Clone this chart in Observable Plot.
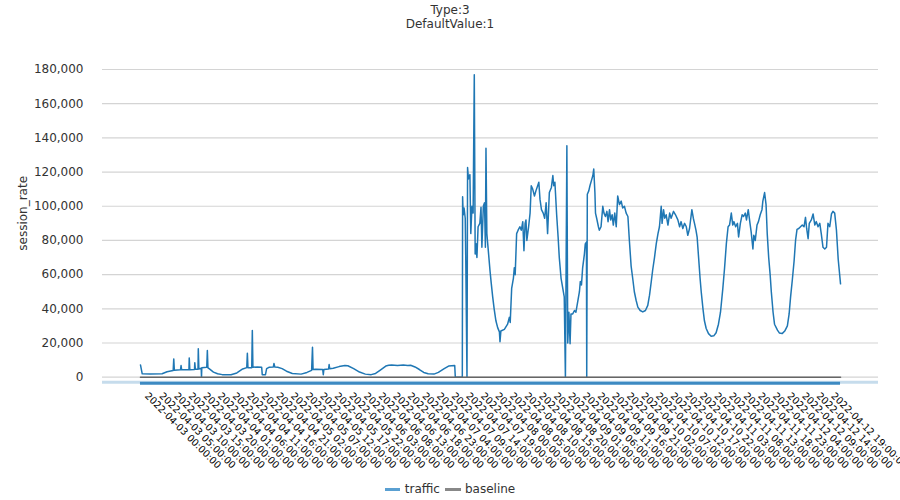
<!DOCTYPE html>
<html><head><meta charset="utf-8">
<script src="https://cdn.jsdelivr.net/npm/d3@7"></script>
<script src="https://cdn.jsdelivr.net/npm/@observablehq/plot@0.6"></script>
<style>
body{margin:0;background:#fff;font-family:"DejaVu Sans",sans-serif;}
#title{width:900px;height:31px;box-sizing:border-box;padding-top:3px;text-align:center;font-size:12px;line-height:14px;color:#333;}
#chart{height:447px;}
#legend{width:900px;height:22px;display:flex;justify-content:center;align-items:center;font-size:12px;color:#333;}
.sw{display:inline-block;height:3px;}
</style></head><body>
<div id="title"><div>Type:3</div><div>DefaultValue:1</div></div>
<div id="chart"></div>
<div id="legend">
<span class="sw" style="width:15px;background:#5aa0d2;margin-right:5px"></span><span style="margin-right:5px">traffic</span>
<span class="sw" style="width:16px;background:#888;margin-right:4px"></span><span>baseline</span>
</div>
<script>
const startTime = Date.UTC(2022, 3, 3, 0, 0, 0);
const trafficHours = [
0, 0.6, 3.4, 7.4, 9.1, 11.2, 11.4, 11.6, 13.7, 13.9,
14.1, 16.6, 16.7, 16.9, 18.5, 18.6, 18.8, 19.7, 19.8, 20.0,
20.8, 20.9, 21.0, 22.7, 22.9, 23.1, 23.5, 25, 26.4, 28,
31, 33, 35, 36.4, 36.6, 36.8, 38.1, 38.3, 38.5, 40,
41.5, 41.7, 42.8, 43.2, 44, 45.5, 45.7, 46, 47, 48.5,
50, 52, 55, 57, 58.6, 58.9, 59.1, 60, 62.4, 62.6,
62.8, 64.4, 64.6, 64.8, 66, 68, 70, 71, 73, 75,
77, 79, 80.5, 82, 84, 85, 86, 88, 90, 91.5,
92.5, 94, 95.5, 97, 98.5, 100.5, 102, 104, 105.5, 107.6,
107.8, 110.2, 110.3, 110.5, 110.8, 111.2, 111.4, 111.8, 112.0, 112.3,
112.8, 113.1, 113.5, 113.9, 114.3, 114.6, 114.9, 115.2, 115.6, 116.2,
116.6, 116.9, 117.4, 117.8, 118.1, 118.3, 118.6, 119.2, 119.7, 120.1,
120.6, 121.1, 121.7, 122.3, 122.9, 123.1, 123.4, 124.6, 125.7, 126.3,
126.6, 127.1, 127.7, 128.0, 128.3, 128.8, 129.3, 129.9, 130.4, 130.9,
131.3, 131.7, 132.0, 132.3, 132.9, 133.4, 133.8, 134.3, 134.9, 135.4,
136.0, 136.4, 136.8, 137.3, 137.9, 138.4, 138.9, 139.4, 140.0, 140.7,
141.2, 141.5, 141.9, 142.5, 143.0, 143.4, 144.0, 144.6, 145.1, 145.5,
146.0, 146.3, 146.7, 147.1, 147.4, 148.0, 148.6, 149.1, 149.7, 150.3,
150.6, 151.0, 151.4, 152.0, 152.3, 152.7, 152.8, 153.0, 153.5, 153.9,
154.4, 154.9, 155.2, 155.6, 155.8, 156.2, 156.8, 157.1, 157.7, 158.3,
158.7, 159.2, 159.7, 160.1, 160.6, 161.0, 161.5, 161.9, 162.4, 162.9,
163.4, 164.0, 164.6, 165.1, 165.7, 166.3, 166.9, 167.4, 168.0, 168.6,
169.1, 169.7, 170.3, 171.1, 172.0, 172.9, 173.7, 174.3, 174.9, 175.4,
176.0, 176.6, 177.2, 177.7, 178.3, 178.6, 179.1, 179.5, 180.0, 180.6,
181.2, 181.7, 182.5, 183.2, 184.0, 184.6, 185.1, 185.7, 186.3, 186.9,
187.4, 188.0, 188.8, 189.3, 189.7, 190.2, 190.6, 191.1, 191.6, 192.0,
192.6, 193.1, 193.7, 194.5, 195.4, 196.3, 197.1, 197.9, 198.6, 199.4,
200.0, 200.6, 201.2, 201.7, 202.3, 202.8, 203.2, 203.8, 204.4, 204.8,
205.4, 206.0, 206.5, 207.1, 207.5, 208.1, 208.7, 209.1, 209.7, 210.0,
210.5, 211.1, 211.6, 212.2, 212.8, 213.1, 213.7, 214.2, 214.6, 215.1,
215.6, 216.0, 216.6, 217.1, 218.1, 218.8, 219.7, 220.6, 221.5, 222.1,
222.6, 223.2, 223.8, 224.3, 224.8, 225.4, 226.0, 226.6, 227.2, 227.7,
228.1, 228.6, 229.0, 229.7, 230.3, 230.9, 231.4, 232.0, 232.6, 233.1,
233.7, 234.3, 234.9, 235.4, 236.0, 236.6, 237.1, 237.7, 238.3, 238.9,
239.7
];
const trafficValues = [
7200, 2000, 1800, 2000, 3200, 3900, 10700, 4000, 4300, 6800,
4300, 4300, 11300, 4400, 4500, 8500, 4600, 4600, 16600, 4800,
5200, 0, 5500, 5800, 15600, 5500, 5000, 3000, 2000, 1500,
1400, 2500, 4800, 5600, 14000, 5600, 5600, 27300, 5800, 6000,
5800, 1500, 1500, 5000, 5800, 6000, 8000, 6000, 5800, 5000,
3500, 2200, 1800, 2800, 4000, 17500, 4500, 4600, 4500, 1500,
4500, 4800, 7400, 5000, 5200, 6200, 6800, 6700, 5000, 3000,
1800, 1500, 2200, 4000, 6500, 7000, 7200, 6800, 7100, 6900,
7000, 6000, 4500, 2800, 2000, 1800, 2800, 5000, 6500, 6800,
0, 0, 105500, 95000, 99000, 93000, 66500, 0, 122700, 116000,
118500, 84000, 100000, 96000, 176900, 72000, 78000, 70000, 88000, 90000,
99400, 76000, 100000, 102000, 76000, 134000, 84000, 72000, 62000, 55000,
47000, 40000, 33000, 29000, 26500, 20800, 27000, 28000, 31000, 35000,
32000, 52000, 58000, 64000, 60000, 84000, 86000, 88000, 86000, 91000,
74000, 90000, 92000, 80000, 88000, 96000, 112000, 110000, 106000, 109000,
112000, 114000, 104000, 98000, 96000, 93000, 102000, 84000, 108000, 111000,
118000, 112000, 114000, 95000, 82000, 70000, 58000, 52000, 47000, 0,
135400, 20000, 38000, 19600, 37000, 37000, 39000, 38000, 44000, 50000,
56000, 54000, 64000, 72000, 78000, 79000, 0, 107000, 109000, 112000,
115000, 118000, 121800, 108000, 96000, 93000, 88000, 86000, 88000, 100000,
96000, 94000, 97000, 91000, 98000, 92000, 95000, 89000, 96000, 88000,
106000, 101000, 103000, 99000, 100000, 96000, 94000, 80000, 65000, 57000,
50000, 45000, 41000, 39000, 38200, 39000, 42000, 48000, 56000, 63000,
70000, 78000, 84000, 88000, 100000, 90000, 98000, 93000, 95000, 89000,
96000, 93000, 97000, 95000, 92000, 88000, 91000, 87000, 90000, 88000,
83000, 87000, 98000, 93000, 90000, 86000, 82000, 70000, 58000, 50000,
40000, 33000, 28500, 25500, 24000, 24200, 26000, 31000, 38000, 52000,
64000, 78000, 88000, 89000, 96000, 89000, 91000, 88000, 90000, 82000,
90000, 95000, 94000, 96000, 92000, 98000, 90000, 85000, 75000, 83000,
80000, 89000, 91000, 95000, 98000, 103000, 108000, 101000, 84000, 70000,
60000, 50000, 38000, 31000, 27500, 25800, 25500, 27000, 30000, 37000,
47000, 57000, 68000, 80000, 86500, 87000, 88000, 89000, 88000, 93500,
87000, 81000, 90000, 92000, 95500, 89000, 91000, 88000, 90000, 84000,
76000, 75000, 76000, 90000, 88000, 95500, 97000, 96000, 86000, 69000,
54600
];
const baselineHours = [0, 239.7];
const baselineValues = [0, 0];
const yTicks = [0, 20000, 40000, 60000, 80000, 100000, 120000, 140000, 160000, 180000];
const xTickHours = d3.range(0, 236, 5);
const sliderLevel = [-3000];

const H = 3600e3;
const toDate = h => new Date(startTime + h * H);
const traffic = trafficHours.map((h, i) => ({t: toDate(h), v: trafficValues[i]}));
const baseline = baselineHours.map((h, i) => ({t: toDate(h), v: baselineValues[i]}));
const xTicks = xTickHours.map(toDate);
const first = traffic[0].t, last = traffic[traffic.length - 1].t;
const pad = 13 * H;

const chart = Plot.plot({
  width: 900, height: 447,
  marginLeft: 102, marginRight: 22, marginTop: 38, marginBottom: 101.3,
  style: {fontFamily: "DejaVu Sans, sans-serif", fontSize: "12px", background: "#fff", overflow: "visible"},
  x: {type: "utc", domain: [new Date(+first - pad), new Date(+last + pad)]},
  y: {domain: [0, 180000]},
  marks: [
    Plot.gridY(yTicks, {stroke: "#d4d4d4", strokeOpacity: 1, strokeWidth: 1.2}),
    Plot.ruleY(sliderLevel, {stroke: "#c6dcec", strokeWidth: 3}),
    Plot.ruleY(sliderLevel, {x1: first, x2: last, dy: 1, stroke: "#3d8ac2", strokeWidth: 3}),
    Plot.line(traffic, {x: "t", y: "v", stroke: "#1f77b4", strokeWidth: 1.5}),
    Plot.line(baseline, {x: "t", y: "v", stroke: "#666", strokeWidth: 1.5}),
    Plot.axisY(yTicks, {tickFormat: d3.format(","), tickSize: 0, tickPadding: 19, fontSize: 12, fill: "#333",
      label: "session_rate", labelAnchor: "center", labelOffset: 84, labelArrow: "none"}),
    Plot.axisX(xTicks, {tickFormat: d3.utcFormat("%Y-%m-%d %H:%M:%S"), tickRotate: 45, tickSize: 0, tickPadding: 17,
      dx: 6, fontSize: 9.7, fill: "#000", label: null})
  ]
});
const yl = chart.querySelector('[aria-label="y-axis label"]');
if (yl) {
  const wrap = document.createElementNS("http://www.w3.org/2000/svg", "g");
  wrap.setAttribute("transform", "translate(0,-10)");
  yl.parentNode.insertBefore(wrap, yl);
  wrap.appendChild(yl);
}
document.getElementById("chart").appendChild(chart);
</script>
</body></html>
